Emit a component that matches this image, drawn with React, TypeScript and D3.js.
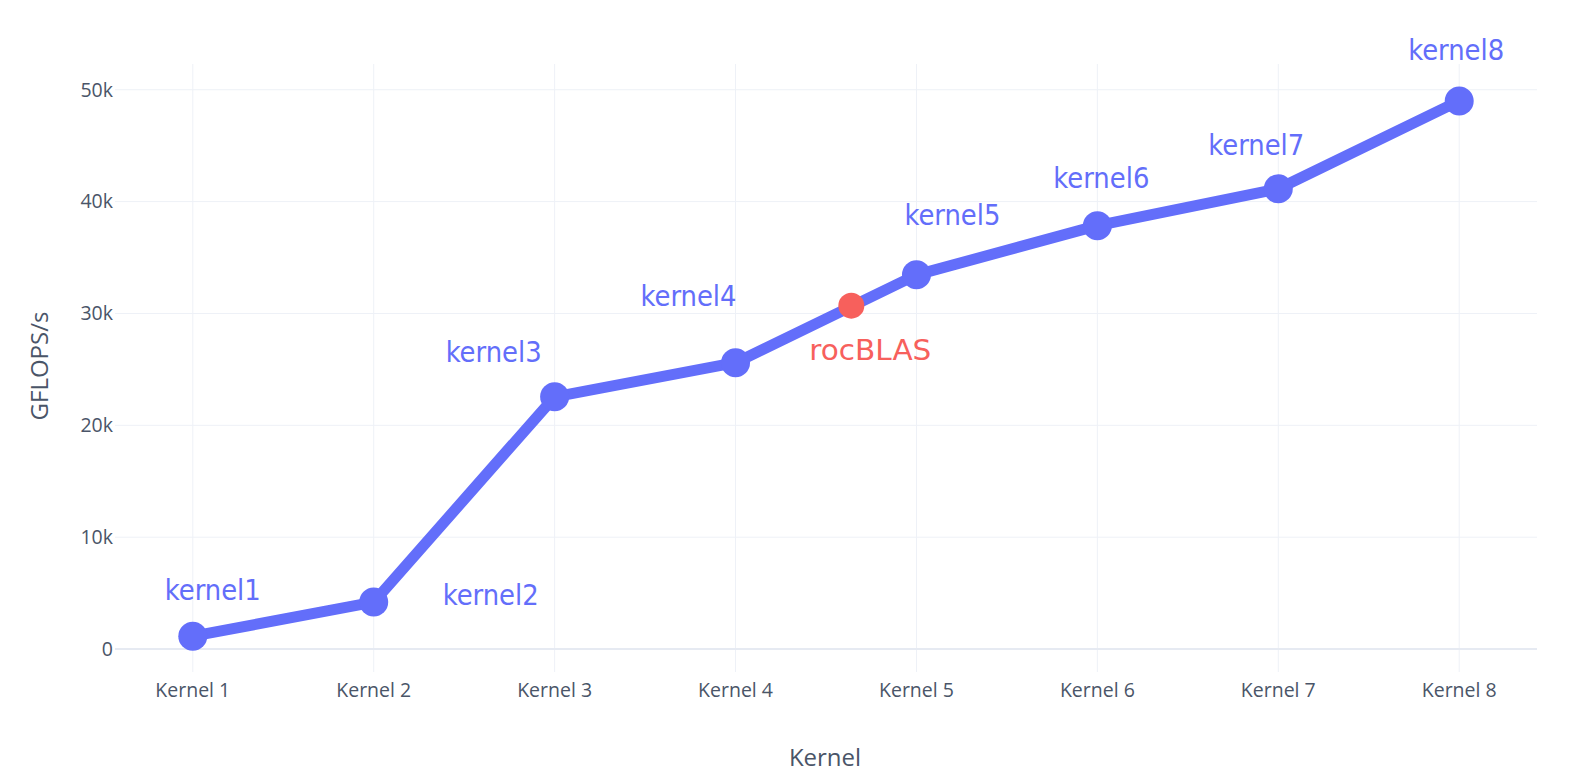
import React from "react";
import * as d3 from "d3";

const categories = ["Kernel 1", "Kernel 2", "Kernel 3", "Kernel 4", "Kernel 5", "Kernel 6", "Kernel 7", "Kernel 8"];
const gflops = [1150, 4200, 22550, 25600, 33450, 37850, 41150, 49000];
const pointLabels = ["kernel1", "kernel2", "kernel3", "kernel4", "kernel5", "kernel6", "kernel7", "kernel8"];
const rocblasPos = 3.64;
const rocblasValue = 30700;
const rocblasLabel = "rocBLAS";
const yTicks = [0, 10000, 20000, 30000, 40000, 50000];
const yTickLabels = ["0", "10k", "20k", "30k", "40k", "50k"];
// label offsets (dx, dy) from each point, in px
const labelOffsets: [number, number][] = [
  [20, -36], [117, 3], [-61, -35], [-47, -57], [36, -50], [4, -38], [-22, -34], [-3, -41],
];
const rocblasOffset: [number, number] = [19, 54];

const W = 1569, H = 783;
const left = 115, right = 1537, top = 64, bottom = 672;

export default function App() {
  const x = d3.scaleLinear().domain([-0.43, 7.43]).range([left, right]);
  const y = d3.scaleLinear().domain([-2050, 52300]).range([bottom, top]);
  const blue = "#636efa";
  const red = "#f7605c";
  const line = d3.line<number>().x((_, i) => x(i)).y((d) => y(d));
  const tickFont = "'Open Sans', 'Noto Sans', sans-serif";
  const handFont = "'Liberation Sans Narrow', 'DejaVu Sans Condensed', 'Open Sans', sans-serif";
  const tickColor = "#4a5568";
  return (
    <svg width={W} height={H} style={{ position: "absolute", left: 0, top: 0, background: "#fff" }}>
      {/* grid */}
      {categories.map((c, i) => (
        <line key={c} x1={x(i)} x2={x(i)} y1={top} y2={bottom} stroke="#eef1f7" strokeWidth={1} />
      ))}
      {yTicks.map((t) => (
        <line key={t} x1={left} x2={right} y1={y(t)} y2={y(t)} stroke={t === 0 ? "#e6eaf2" : "#eef1f7"} strokeWidth={t === 0 ? 2 : 1} />
      ))}
      {/* y tick labels */}
      {yTicks.map((t, i) => (
        <text key={t} x={left - 2} y={y(t)} dy="0.35em" textAnchor="end" fontFamily={tickFont} fontSize={19.5} fill={tickColor}>
          {yTickLabels[i]}
        </text>
      ))}
      {/* x tick labels */}
      {categories.map((c, i) => (
        <text key={c} x={x(i)} y={697} textAnchor="middle" fontFamily={tickFont} fontSize={19.5} fill={tickColor}>
          {c}
        </text>
      ))}
      {/* axis titles */}
      <text x={825} y={766} textAnchor="middle" fontFamily={tickFont} fontSize={24} fill={tickColor}>Kernel</text>
      <text transform={`translate(48,${366}) rotate(-90)`} textAnchor="middle" fontFamily={tickFont} fontSize={24} fill={tickColor}>GFLOPS/s</text>
      {/* line */}
      <path d={line(gflops) || ""} fill="none" stroke={blue} strokeWidth={11} strokeLinejoin="round" />
      {gflops.map((v, i) => (
        <circle key={i} cx={x(i)} cy={y(v)} r={14.5} fill={blue} />
      ))}
      <circle cx={x(rocblasPos)} cy={y(rocblasValue)} r={13} fill={red} />
      {/* annotations */}
      {gflops.map((v, i) => (
        <text key={"l" + i} x={x(i) + labelOffsets[i][0]} y={y(v) + labelOffsets[i][1]} textAnchor="middle"
          fontFamily={handFont} fontSize={29} fill={blue} textLength={96} lengthAdjust="spacingAndGlyphs">
          {pointLabels[i]}
        </text>
      ))}
      <text x={x(rocblasPos) + rocblasOffset[0]} y={y(rocblasValue) + rocblasOffset[1]} textAnchor="middle"
        fontFamily={handFont} fontSize={29} fill={red} textLength={122} lengthAdjust="spacingAndGlyphs">
        {rocblasLabel}
      </text>
    </svg>
  );
}
